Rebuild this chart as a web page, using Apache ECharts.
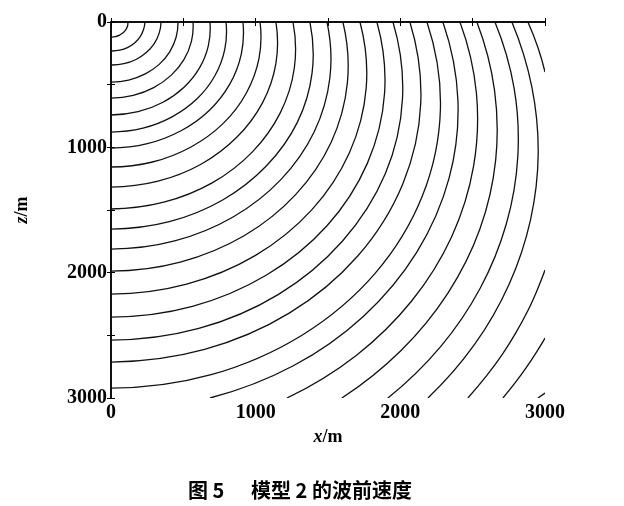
<!DOCTYPE html>
<html>
<head>
<meta charset="utf-8">
<script src="https://cdn.jsdelivr.net/npm/echarts@6/dist/echarts.min.js"></script>
<style>
html,body{margin:0;padding:0;background:#fff;}
#chart{width:624px;height:506px;}
</style>
</head>
<body>
<div id="chart"></div>
<script>
// Axis ticks / labels
const xTicks = [0, 1000, 2000, 3000];
const zTicks = [0, 1000, 2000, 3000];

// Wavefront contours as [x (m), z (m)] points
const c01 = [[117,0],[114,34],[102,62],[83,86],[59,105],[31,117],[0,120]];
const c02 = [[235,0],[225,60],[202,117],[165,165],[117,202],[60,225],[0,231]];
const c03 = [[346,0],[333,89],[299,173],[244,244],[173,299],[89,333],[0,343]];
const c04 = [[463,0],[450,122],[406,238],[333,338],[237,414],[122,463],[0,479]];
const c05 = [[567,0],[556,154],[504,300],[415,426],[295,524],[154,586],[0,607]];
const c06 = [[684,0],[673,188],[612,366],[505,520],[359,640],[187,716],[0,742]];
const c07 = [[795,0],[786,220],[717,431],[593,615],[422,757],[221,847],[0,878]];
const c08 = [[912,0],[901,254],[821,496],[679,706],[484,868],[251,971],[0,1006]];
const c09 = [[1030,0],[1023,291],[935,568],[774,811],[553,997],[287,1117],[0,1157]];
const c10 = [[1140,0],[1140,330],[1048,643],[871,918],[622,1135],[325,1270],[0,1317]];
const c11 = [[1258,0],[1267,369],[1170,725],[976,1038],[699,1284],[365,1438],[0,1492]];
const c12 = [[1375,0],[1390,406],[1288,801],[1075,1147],[772,1420],[403,1593],[0,1652]];
const c13 = [[1493,0],[1513,445],[1404,878],[1174,1258],[844,1556],[440,1747],[0,1812]];
const c14 = [[1603,0],[1634,485],[1522,959],[1276,1377],[920,1705],[479,1915],[0,1987]];
const c15 = [[1721,0],[1764,527],[1648,1043],[1386,1501],[999,1862],[523,2091],[0,2171]];
const c16 = [[1838,0],[1891,569],[1772,1128],[1493,1626],[1078,2017],[563,2269],[0,2354]];
const c17 = [[1949,0],[2015,610],[1896,1211],[1599,1749],[1158,2173],[607,2445],[0,2538]];
const c18 = [[2066,0],[2141,651],[2017,1292],[1704,1869],[1232,2323],[647,2612],[0,2713]];
const c19 = [[2184,0],[2277,696],[2152,1389],[1824,2008],[1323,2497],[692,2814],[0,2921]];
const c20 = [[2294,0],[2398,622],[2337,1246],[2114,1836],[1746,2347],[1260,2743],[684,3000]];
const c21 = [[2412,0],[2526,569],[2506,1152],[2354,1715],[2078,2226],[1693,2662],[1216,3000]];
const c22 = [[2529,0],[2651,544],[2659,1102],[2550,1652],[2328,2165],[2005,2621],[1596,3000]];
const c23 = [[2654,0],[2787,532],[2812,1075],[2733,1610],[2553,2122],[2277,2592],[1914,3000]];
const c24 = [[2771,0],[2909,518],[2953,1050],[2900,1578],[2752,2092],[2513,2573],[2191,3000]];
const c25top = [[2882,0],[2950,200],[3000,399]];
const c25low = [[3000,1979],[2942,2150],[2883,2300],[2798,2480],[2706,2650],[2598,2820],[2467,3000]];
const c26 = [[3000,2522],[2938,2640],[2869,2760],[2793,2880],[2709,3000]];
const c27 = [[3000,2961],[2951,3000]];

const contours = [c01,c02,c03,c04,c05,c06,c07,c08,c09,c10,c11,c12,c13,c14,
  c15,c16,c17,c18,c19,c20,c21,c22,c23,c24,c25top,c25low,c26,c27];

const labelFont = {
  fontFamily: 'Liberation Serif', fontWeight: 'bold', fontSize: 20, color: '#000'
};
const axisLine = { show: true, lineStyle: { color: '#000', width: 1.5 } };
const tick = { show: true, inside: true, length: 4, lineStyle: { color: '#000', width: 1 } };
const nameStyle = {
  fontFamily: 'Liberation Serif', fontWeight: 'bold', fontSize: 18, color: '#000',
  rich: { i: { fontFamily: 'Liberation Serif', fontWeight: 'bold', fontStyle: 'italic', fontSize: 18, color: '#000' } }
};

// Smooth curve through the data points (pixel coordinates from the axes)
function smoothPath(pts) {
  const n = pts.length;
  if (n < 2) return '';
  if (n === 2) return 'M' + pts[0][0] + ' ' + pts[0][1] + 'L' + pts[1][0] + ' ' + pts[1][1];
  const T = pts.map((p, i) => {
    if (i === 0) return [(-3 * p[0] + 4 * pts[1][0] - pts[2][0]) / 2, (-3 * p[1] + 4 * pts[1][1] - pts[2][1]) / 2];
    if (i === n - 1) return [(3 * p[0] - 4 * pts[n - 2][0] + pts[n - 3][0]) / 2, (3 * p[1] - 4 * pts[n - 2][1] + pts[n - 3][1]) / 2];
    return [(pts[i + 1][0] - pts[i - 1][0]) / 2, (pts[i + 1][1] - pts[i - 1][1]) / 2];
  });
  let d = 'M' + pts[0][0].toFixed(2) + ' ' + pts[0][1].toFixed(2);
  for (let i = 0; i < n - 1; i++) {
    const a = pts[i], b = pts[i + 1];
    const c1 = [a[0] + T[i][0] / 3, a[1] + T[i][1] / 3];
    const c2 = [b[0] - T[i + 1][0] / 3, b[1] - T[i + 1][1] / 3];
    d += 'C' + c1[0].toFixed(2) + ' ' + c1[1].toFixed(2) + ' ' + c2[0].toFixed(2) + ' ' + c2[1].toFixed(2) + ' ' + b[0].toFixed(2) + ' ' + b[1].toFixed(2);
  }
  return d;
}

const chart = echarts.init(document.getElementById('chart'), null, { renderer: 'canvas' });
chart.setOption({
  animation: false,
  backgroundColor: '#fff',
  grid: { left: 111, right: 79, top: 22, bottom: 108, show: false },
  xAxis: [
    {
      type: 'value', min: 0, max: 3000, interval: 500, position: 'bottom',
      axisLine, axisTick: tick, splitLine: { show: false },
      axisLabel: Object.assign({ margin: 5,
        formatter: v => xTicks.includes(v) ? String(v) : '' }, labelFont),
      name: '{i|x}/m', nameLocation: 'middle', nameGap: 30, nameTextStyle: nameStyle
    },
    {
      type: 'value', min: 0, max: 3000, interval: 500, position: 'top',
      axisLine, axisTick: tick, splitLine: { show: false }, axisLabel: { show: false }
    }
  ],
  yAxis: [
    {
      type: 'value', min: 0, max: 3000, interval: 500, inverse: true, position: 'left',
      axisLine, axisTick: tick, splitLine: { show: false },
      axisLabel: Object.assign({ margin: 4,
        formatter: v => zTicks.includes(v) ? String(v) : '' }, labelFont),
      name: '{i|z}/m', nameLocation: 'middle', nameGap: 80, nameRotate: 90,
      nameTextStyle: nameStyle
    },
    {
      type: 'value', min: 0, max: 3000, interval: 500, inverse: true, position: 'right',
      axisLine, axisTick: tick, splitLine: { show: false }, axisLabel: { show: false }
    }
  ],
  series: contours.map(c => ({
    type: 'custom', coordinateSystem: 'cartesian2d', xAxisIndex: 0, yAxisIndex: 0,
    data: c, clip: true, silent: true,
    renderItem: (params, api) => {
      if (params.dataIndex !== 0) return null;
      const pts = c.map(p => api.coord(p));
      return {
        type: 'path',
        shape: { pathData: smoothPath(pts) },
        style: { stroke: '#111', lineWidth: 1.3, fill: 'none' }
      };
    }
  })),
  graphic: [
    { type: 'text', left: 188, top: 480,
      style: { text: '图 5', font: 'bold 20px "Noto Sans CJK SC"', fill: '#000' } },
    { type: 'text', left: 251, top: 480,
      style: { text: '模型 2 的波前速度', font: 'bold 20px "Noto Sans CJK SC"', fill: '#000' } }
  ]
});
</script>
</body>
</html>
